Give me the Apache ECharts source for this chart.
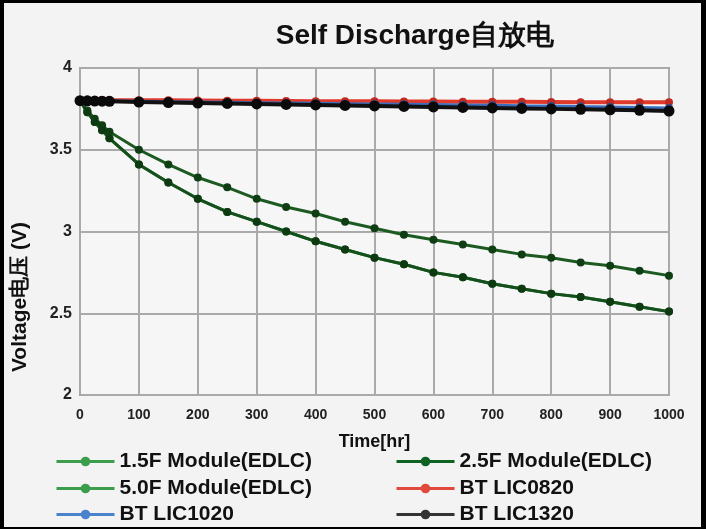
<!DOCTYPE html>
<html>
<head>
<meta charset="utf-8">
<script src="https://cdn.jsdelivr.net/npm/echarts@6/dist/echarts.min.js"></script>
<style>
html,body{margin:0;padding:0;background:#f3f3f3;}
#chart{width:706px;height:529px;}
</style>
</head>
<body>
<div id="chart"></div>
<script>
// ---- data ----
const timeHr = [0, 12.5, 25, 37.5, 50, 100, 150, 200, 250, 300, 350, 400, 450, 500, 550, 600, 650, 700, 750, 800, 850, 900, 950, 1000];
const edlc15F = [3.80, 3.74, 3.69, 3.65, 3.61, 3.50, 3.41, 3.33, 3.27, 3.20, 3.15, 3.11, 3.06, 3.02, 2.98, 2.95, 2.92, 2.89, 2.86, 2.84, 2.81, 2.79, 2.76, 2.73];
const edlc25F = [3.80, 3.73, 3.67, 3.62, 3.57, 3.41, 3.30, 3.20, 3.12, 3.06, 3.00, 2.94, 2.89, 2.84, 2.80, 2.75, 2.72, 2.68, 2.65, 2.62, 2.60, 2.57, 2.54, 2.51];
const edlc50F = [3.80, 3.73, 3.67, 3.62, 3.57, 3.41, 3.30, 3.20, 3.12, 3.06, 3.00, 2.94, 2.89, 2.84, 2.80, 2.75, 2.72, 2.68, 2.65, 2.62, 2.60, 2.57, 2.54, 2.51];
const lic0820 = [3.805, 3.805, 3.805, 3.805, 3.804, 3.803, 3.802, 3.801, 3.800, 3.799, 3.798, 3.797, 3.797, 3.796, 3.795, 3.795, 3.794, 3.793, 3.793, 3.792, 3.791, 3.791, 3.790, 3.790];
const lic1020 = [3.800, 3.799, 3.799, 3.798, 3.798, 3.796, 3.794, 3.792, 3.790, 3.788, 3.786, 3.784, 3.782, 3.780, 3.778, 3.776, 3.774, 3.772, 3.769, 3.767, 3.764, 3.762, 3.759, 3.756];
const lic1320 = [3.800, 3.799, 3.798, 3.797, 3.796, 3.792, 3.789, 3.786, 3.783, 3.780, 3.777, 3.774, 3.771, 3.768, 3.765, 3.762, 3.759, 3.756, 3.753, 3.750, 3.747, 3.744, 3.741, 3.737];
const seriesNames = ['1.5F Module(EDLC)', '2.5F Module(EDLC)', '5.0F Module(EDLC)', 'BT LIC0820', 'BT LIC1020', 'BT LIC1320'];
const legendColors = ['#3c9e4c', '#0e6322', '#3c9e4c', '#e04a3c', '#4a82cc', '#333333'];
const xTicks = [0, 100, 200, 300, 400, 500, 600, 700, 800, 900, 1000];
const yTicks = [2, 2.5, 3, 3.5, 4];

const pairs = v => timeHr.map((t, i) => [t, v[i]]);
const FONT = 'Liberation Sans';

const chart = echarts.init(document.getElementById('chart'), null, {renderer: 'canvas'});

function lineSeries(name, data, color, symColor, width, size) {
  return {
    name: name, type: 'line', data: pairs(data),
    symbol: 'circle', symbolSize: size, showSymbol: true,
    lineStyle: {color: color, width: width},
    itemStyle: {color: symColor},
    emphasis: {disabled: true}, animation: false
  };
}

const legendText = {fontFamily: FONT, fontWeight: 'bold', fontSize: 21, color: '#111'};
// legend placement: [seriesIndexInNames, left, top]
const legendSlots = [[0, 55, 451], [2, 55, 478], [4, 55, 504], [1, 395, 451], [3, 395, 478], [5, 395, 504]];
const legends = legendSlots.map(([i, l, t]) => ({
  left: l, top: t, itemWidth: 58, itemHeight: 12, padding: 0,
  textStyle: legendText, selectedMode: false,
  data: [{name: seriesNames[i], itemStyle: {color: legendColors[i]}, lineStyle: {color: legendColors[i], width: 3}}]
}));

chart.setOption({
  backgroundColor: '#f3f3f3',
  animation: false,
  title: {
    text: 'Self Discharge自放电',
    left: 410, top: 17, textAlign: 'center',
    textStyle: {fontFamily: FONT, fontWeight: 'bold', fontSize: 28, color: '#111'}
  },
  grid: {left: 80, right: 37, top: 68, bottom: 134, show: true, borderColor: '#9a9a9a', borderWidth: 2, backgroundColor: '#f6f6f6'},
  xAxis: {
    type: 'value', min: 0, max: 1000, interval: 100,
    name: 'Time[hr]', nameLocation: 'middle', nameGap: 38,
    nameTextStyle: {fontFamily: FONT, fontWeight: 'bold', fontSize: 18, color: '#111'},
    axisLine: {show: false}, axisTick: {show: false},
    axisLabel: {fontFamily: FONT, fontWeight: 'bold', fontSize: 14, color: '#222', margin: 13,
      formatter: v => xTicks.includes(v) ? String(v) : ''},
    splitLine: {show: true, lineStyle: {color: '#aaaaaa', width: 2}}
  },
  yAxis: {
    type: 'value', min: 2, max: 4, interval: 0.5,
    axisLine: {show: false}, axisTick: {show: false},
    axisLabel: {fontFamily: FONT, fontWeight: 'bold', fontSize: 16, color: '#222', margin: 8,
      formatter: v => yTicks.includes(v) ? String(v) : ''},
    splitLine: {show: true, lineStyle: {color: '#aaaaaa', width: 2}}
  },
  legend: legends,
  series: [
    lineSeries(seriesNames[0], edlc15F, '#1c5a22', '#0f3d14', 3, 8),
    lineSeries(seriesNames[2], edlc50F, '#2a7a34', '#1b5a20', 3, 8),
    lineSeries(seriesNames[1], edlc25F, '#14501c', '#0d3a10', 3, 8),
    lineSeries(seriesNames[3], lic0820, '#e03a2c', '#c02a20', 4, 8),
    lineSeries(seriesNames[4], lic1020, '#3a6fc0', '#2a4f90', 3, 8),
    lineSeries(seriesNames[5], lic1320, '#111111', '#0a0a0a', 4, 11)
  ],
  graphic: [
    {type: 'text', left: 10, top: 222, rotation: Math.PI / 2, originX: 0, originY: 0,
      style: {text: 'Voltage电压 (V)', fontFamily: FONT, fontWeight: 'bold', fontSize: 21, fill: '#111'}},
    {type: 'rect', left: 0, top: 0, shape: {width: 4, height: 529}, style: {fill: '#000'}},
    {type: 'rect', left: 0, top: 0, shape: {width: 706, height: 3}, style: {fill: '#000'}},
    {type: 'rect', left: 701, top: 0, shape: {width: 5, height: 529}, style: {fill: '#000'}},
    {type: 'rect', left: 0, top: 527, shape: {width: 706, height: 2}, style: {fill: '#000'}}
  ]
});
</script>
</body>
</html>
